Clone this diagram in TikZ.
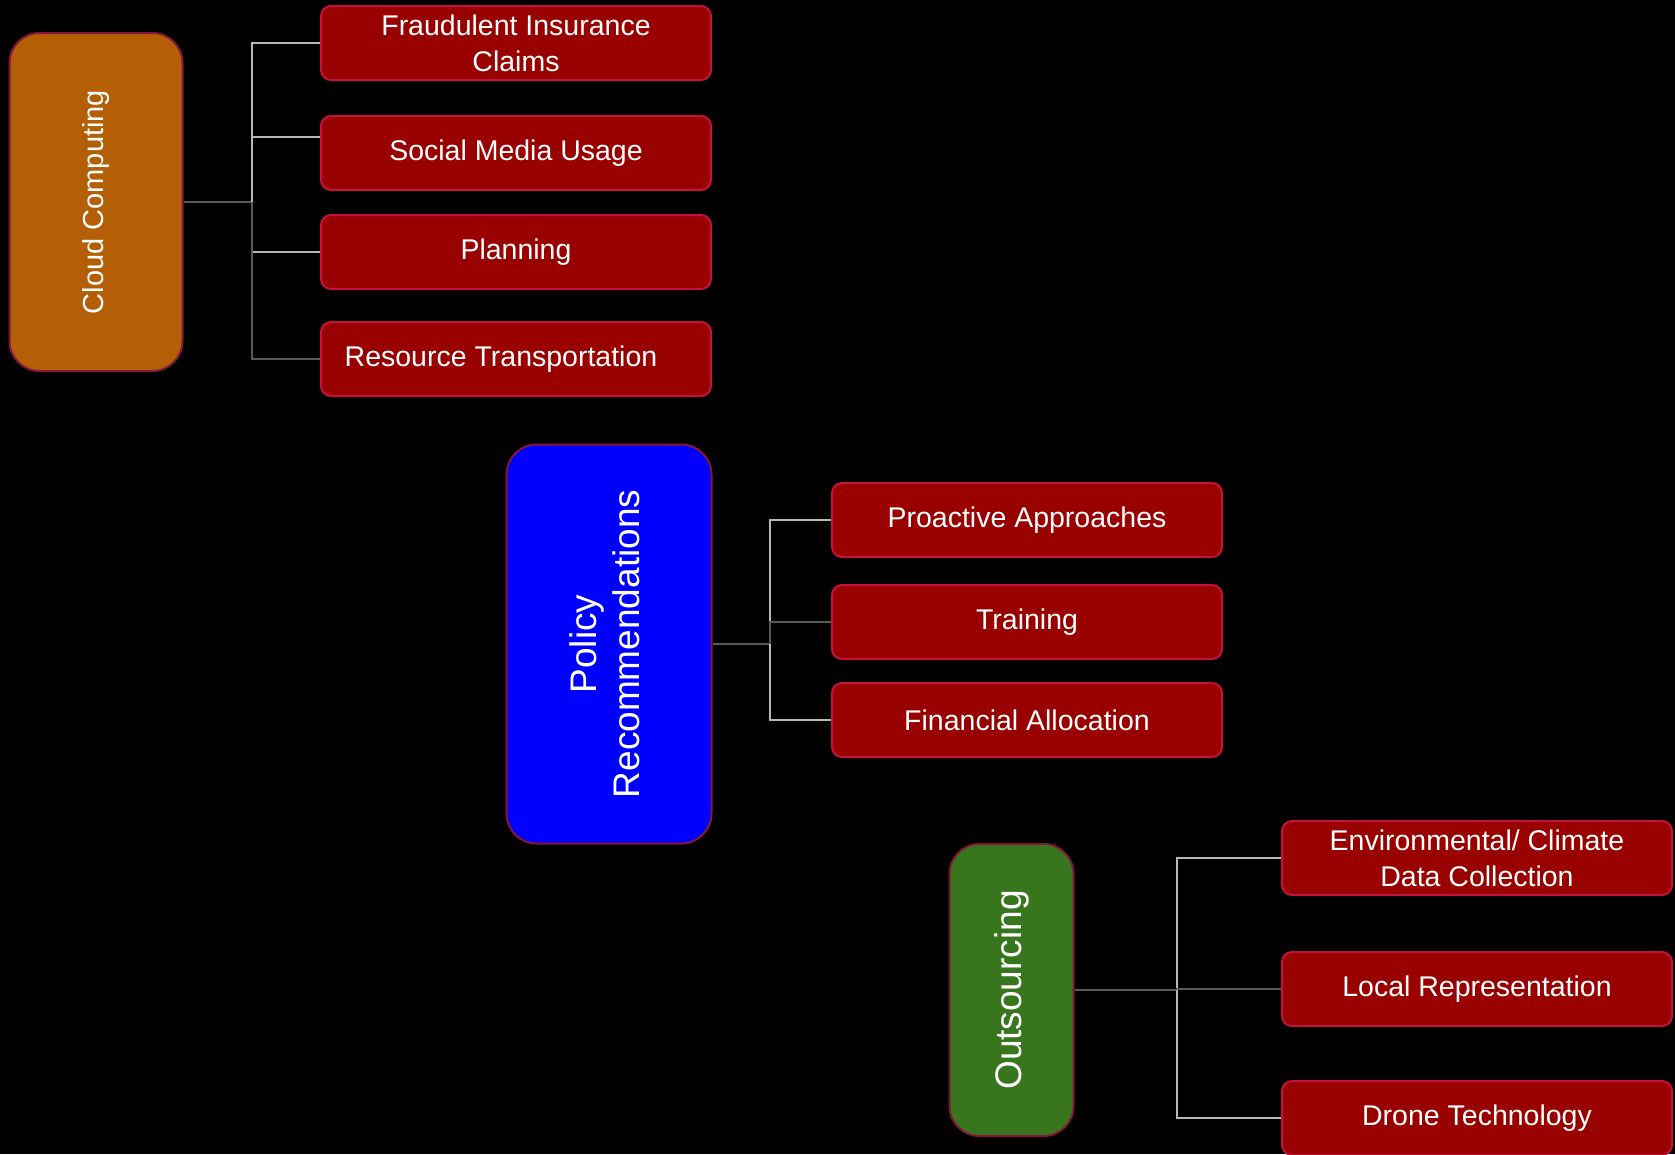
\documentclass[tikz,border=0pt]{standalone}
\usepackage{fontspec}
\setmainfont{Liberation Sans}
\usepackage{xcolor}
\usepackage{tikz}
\usetikzlibrary{positioning}

\definecolor{topicred}{HTML}{990000}
\definecolor{topicrim}{HTML}{C2123E}
\definecolor{mainrim}{HTML}{85173A}
\definecolor{cloudorange}{HTML}{B45F06}
\definecolor{outgreen}{HTML}{38761D}
\definecolor{linelight}{HTML}{B7B7B7}
\definecolor{linedark}{HTML}{595959}

\begin{document}
\begin{tikzpicture}[x=1pt,y=-1pt,
	topic/.style={draw=topicrim,line width=2pt,fill=topicred,rounded corners=10pt,minimum width=390pt,minimum height=74pt,inner sep=0pt,text=white,align=center,font=\fontsize{28.5}{36}\selectfont},
	main/.style={draw=mainrim,line width=2pt,rounded corners=30pt,inner sep=0pt,text=white},
	light/.style={draw=linelight,line width=2pt},
	dark/.style={draw=linedark,line width=2pt}]
		\path[use as bounding box,fill=black] (0,0) rectangle (1675,1154);

		% Cloud Computing
		\node[main,fill=cloudorange,minimum width=173pt,minimum height=338pt,font=\fontsize{29}{34}\selectfont] (cloud) at (96,202) {\rotatebox{90}{Cloud Computing}};
		\node[topic] (fraud)    at (516,43)  {Fraudulent Insurance\\Claims};
		\node[topic] (social)   at (516,153) {Social Media Usage};
		\node[topic] (plan)     at (516,252) {Planning};
		\node[topic] (resource) at (516,359) {Resource Transportation\hspace*{30pt}};

		\coordinate (cloudfork) at ([xshift=68pt]cloud.east);
		\draw[dark]  (cloud.east) -- (cloudfork);
		\draw[light] (cloudfork) |- (fraud.west);
		\draw[light] (cloudfork) |- ([yshift=16pt]social.west);
		\draw[light] (cloudfork) |- (plan.west);
		\draw[dark]  (cloudfork) |- (resource.west);

		% Policy Recommendations
		\node[main,fill=blue,minimum width=205pt,minimum height=399pt,font=\fontsize{37}{43}\selectfont] (policy) at (609,644) {\rotatebox{90}{\begin{tabular}{@{}c@{}}Policy\\Recommendations\end{tabular}}};
		\node[topic] (proactive) at (1027,520) {Proactive Approaches};
		\node[topic] (training)  at (1027,622) {Training};
		\node[topic] (finance)   at (1027,720) {Financial Allocation};

		\coordinate (policyfork) at ([xshift=57pt]policy.east);
		\draw[dark]  (policy.east) -- (policyfork);
		\draw[light] (policyfork) |- (proactive.west);
		\draw[dark]  (policyfork) |- (training.west);
		\draw[light] (policyfork) |- (finance.west);

		% Outsourcing
		\node[main,fill=outgreen,minimum width=124pt,minimum height=292pt,font=\fontsize{37}{43}\selectfont] (outsrc) at (1011.5,990) {\rotatebox{90}{Outsourcing}};
		\node[topic] (climate) at (1477,858)  {Environmental/ Climate\\Data Collection};
		\node[topic] (local)   at (1477,989)  {Local Representation};
		\node[topic] (drone)   at (1477,1118) {Drone Technology};

		\coordinate (outfork) at ([xshift=102pt]outsrc.east);
		\draw[dark]  (outsrc.east) -- (outfork);
		\draw[light] (outfork) |- (climate.west);
		\draw[dark]  (outfork) |- (local.west);
		\draw[light] (outfork) |- (drone.west);
	\end{tikzpicture}
\end{document}
